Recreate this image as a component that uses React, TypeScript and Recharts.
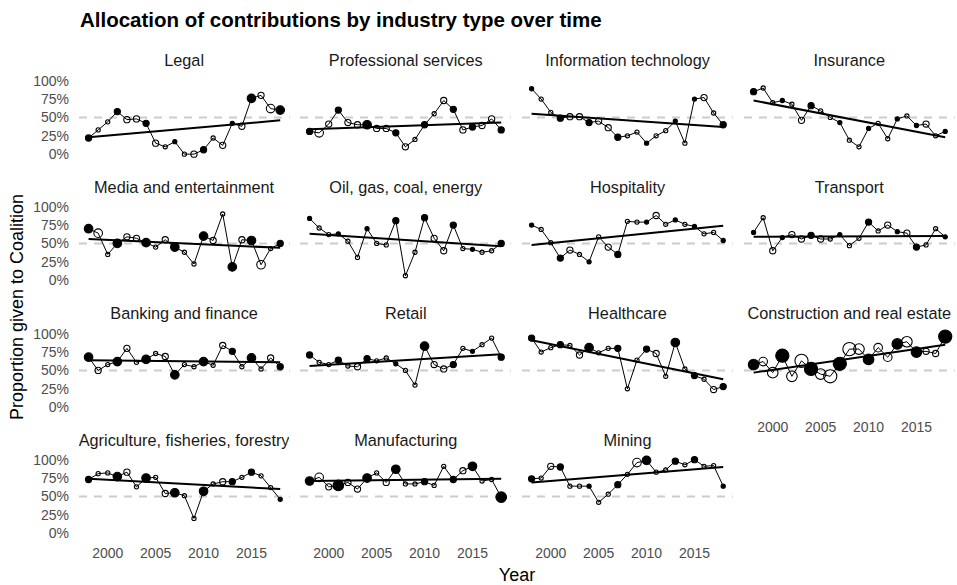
import { LineChart, Line, XAxis, YAxis, ReferenceLine } from "recharts";

// years 1998..2018, one observation per year
const years = [
  1998, 1999, 2000, 2001, 2002, 2003, 2004, 2005, 2006, 2007, 2008,
  2009, 2010, 2011, 2012, 2013, 2014, 2015, 2016, 2017, 2018,
];
// years drawn as filled dots
const filledYears = [1998, 2001, 2004, 2007, 2010, 2013, 2015, 2018];

const industries = [
  "Legal",
  "Professional services",
  "Information technology",
  "Insurance",
  "Media and entertainment",
  "Oil, gas, coal, energy",
  "Hospitality",
  "Transport",
  "Banking and finance",
  "Retail",
  "Healthcare",
  "Construction and real estate",
  "Agriculture, fisheries, forestry",
  "Manufacturing",
  "Mining",
];

// share given to Coalition, %
const legal = [22, 33, 44, 58, 47, 48, 42, 15, 10, 17, 0, 0, 6, 22, 12, 42, 38, 76, 80, 62, 60];
const profServices = [31, 29, 41, 60, 43, 40, 40, 35, 35, 29, 10, 20, 40, 55, 73, 61, 33, 37, 39, 48, 33];
const infoTech = [89, 75, 57, 49, 51, 51, 43, 45, 36, 23, 25, 30, 15, 25, 32, 45, 15, 75, 77, 56, 40];
const insurance = [85, 90, 70, 73, 68, 46, 66, 59, 50, 43, 19, 10, 35, 42, 21, 48, 52, 39, 41, 25, 31];
const media = [70, 64, 35, 50, 59, 57, 51, 45, 55, 45, 38, 22, 60, 54, 90, 18, 55, 54, 21, 43, 50];
const oilGas = [84, 71, 62, 63, 53, 31, 70, 50, 48, 81, 6, 38, 85, 57, 40, 75, 43, 42, 38, 40, 50];
const hospitality = [75, 69, 51, 30, 41, 35, 25, 59, 45, 35, 80, 79, 79, 88, 76, 82, 76, 73, 63, 65, 54];
const transport = [65, 85, 40, 58, 62, 56, 61, 56, 56, 62, 47, 57, 79, 67, 75, 66, 64, 45, 48, 70, 59];
const banking = [68, 50, 58, 62, 80, 61, 65, 73, 69, 44, 58, 55, 62, 57, 84, 76, 55, 67, 52, 67, 55];
const retail = [71, 61, 58, 64, 56, 55, 66, 63, 67, 59, 50, 30, 83, 58, 52, 58, 80, 76, 85, 94, 68];
const healthcare = [94, 75, 81, 85, 84, 71, 81, 74, 80, 80, 25, 64, 79, 73, 42, 88, 52, 43, 38, 24, 28];
const construction = [58, 62, 47, 70, 42, 63, 52, 45, 42, 59, 79, 79, 65, 81, 68, 86, 89, 75, 76, 73, 96];
const agriculture = [73, 81, 82, 77, 83, 63, 75, 76, 54, 55, 51, 20, 57, 67, 70, 70, 76, 83, 78, 62, 46];
const manufacturing = [71, 76, 63, 65, 69, 60, 75, 82, 69, 87, 67, 67, 70, 65, 91, 73, 85, 91, 71, 73, 49];
const mining = [74, 75, 91, 90, 64, 64, 64, 42, 53, 66, 80, 96, 99, 83, 86, 98, 93, 100, 91, 92, 64];

// dot size class (1 smallest .. 5 largest)
const legalSize = [2, 1, 1, 2, 2, 2, 2, 2, 1, 1, 1, 2, 2, 1, 2, 1, 2, 3, 2, 3, 3];
const profSize = [2, 3, 2, 2, 2, 2, 3, 2, 2, 2, 2, 1, 2, 1, 2, 2, 2, 2, 2, 2, 2];
const itSize = [1, 1, 1, 2, 2, 2, 2, 2, 2, 2, 1, 1, 1, 1, 1, 1, 1, 1, 2, 1, 2];
const insuranceSize = [2, 1, 1, 1, 1, 2, 2, 1, 1, 1, 1, 1, 1, 1, 1, 1, 1, 1, 2, 1, 1];
const mediaSize = [3, 3, 1, 3, 2, 2, 3, 1, 2, 3, 1, 1, 3, 2, 1, 3, 2, 3, 3, 1, 2];
const oilSize = [1, 1, 1, 1, 1, 1, 1, 1, 1, 2, 1, 1, 2, 2, 2, 2, 1, 1, 1, 1, 2];
const hospSize = [1, 1, 1, 2, 2, 1, 1, 1, 2, 2, 1, 1, 1, 2, 1, 1, 1, 1, 1, 1, 1];
const transportSize = [1, 1, 2, 1, 2, 2, 2, 2, 1, 1, 1, 1, 2, 1, 2, 1, 2, 2, 1, 1, 1];
const bankingSize = [3, 2, 1, 3, 2, 1, 3, 1, 2, 3, 1, 1, 3, 1, 2, 2, 1, 3, 1, 2, 2];
const retailSize = [2, 1, 1, 2, 1, 2, 2, 1, 1, 1, 1, 1, 3, 2, 2, 2, 1, 1, 1, 1, 2];
const healthSize = [2, 1, 1, 2, 1, 2, 3, 1, 1, 2, 1, 1, 2, 2, 1, 3, 1, 2, 1, 2, 2];
const constructionSize = [4, 3, 4, 5, 4, 5, 5, 4, 5, 5, 5, 4, 4, 3, 3, 4, 4, 4, 2, 2, 5];
const agriSize = [2, 1, 1, 3, 2, 1, 3, 1, 2, 3, 1, 1, 3, 1, 2, 2, 1, 2, 1, 1, 1];
const manuSize = [3, 3, 2, 4, 2, 2, 3, 1, 2, 3, 1, 1, 2, 1, 1, 2, 2, 3, 1, 1, 4];
const miningSize = [2, 1, 2, 2, 1, 1, 1, 1, 1, 2, 1, 3, 3, 1, 1, 2, 1, 2, 1, 1, 1];

// fitted trend, value at 1998 and at 2018
const trends = [
  [23, 46], [34, 43], [55, 37], [73, 23],
  [56, 44], [63, 46], [48, 74], [59, 60],
  [64, 61], [56, 72], [91, 38], [47, 85],
  [74, 60], [71, 74], [69, 90],
];

const shares = [
  legal, profServices, infoTech, insurance,
  media, oilGas, hospitality, transport,
  banking, retail, healthcare, construction,
  agriculture, manufacturing, mining,
];
const sizes = [
  legalSize, profSize, itSize, insuranceSize,
  mediaSize, oilSize, hospSize, transportSize,
  bankingSize, retailSize, healthSize, constructionSize,
  agriSize, manuSize, miningSize,
];

const radius = [0, 2.1, 3.1, 4.3, 5.3, 6.6];

const colLeft = [78.7, 300.4, 522.1, 743.8];
const rowMid = [117, 243.6, 370, 496.5];
const panelW = 210.8;
const panelH = 110 * 0.735;
const yAxisW = 60;
const xAxisH = 30;
const pad = 10; // room so edge labels and dots are not clipped
const font = "'Liberation Sans', Arial, sans-serif";

function renderDot(props: any) {
  const { cx, cy, payload, index } = props;
  if (cx == null || cy == null) return <g key={`d-${index}`} />;
  const filled = filledYears.includes(payload.year);
  return (
    <circle
      key={`d-${index}`}
      cx={cx}
      cy={cy}
      r={radius[payload.size]}
      fill={filled ? "#000" : "none"}
      stroke="#000"
      strokeWidth={1.1}
    />
  );
}

function Panel({ k }: { k: number }) {
  const col = k % 4;
  const row = Math.floor(k / 4);
  const showY = col === 0;
  const showX = k >= 11;
  const rows = years.map((year, i) => ({
    year,
    share: shares[k][i],
    size: sizes[k][i],
  }));
  const trendRows = [
    { year: years[0], share: trends[k][0] },
    { year: years[years.length - 1], share: trends[k][1] },
  ];
  const top = rowMid[row] - panelH / 2;
  return (
    <>
      <div
        style={{
          position: "absolute",
          left: colLeft[col],
          top: rowMid[row] - 65,
          width: panelW,
          height: 18,
          display: "flex",
          justifyContent: "center",
          overflow: "hidden",
          whiteSpace: "nowrap",
          fontSize: 16.3,
          lineHeight: "16.3px",
          color: "#1a1a1a",
        }}
      >
        {industries[k]}
      </div>
      <div
        style={{
          position: "absolute",
          left: colLeft[col] - (showY ? yAxisW : 0) - pad,
          top: top - pad,
        }}
      >
        <LineChart
          width={panelW + (showY ? yAxisW : 0) + 2 * pad}
          height={panelH + (showX ? xAxisH : 0) + 2 * pad}
          data={rows}
          margin={{ top: pad, right: pad, bottom: pad, left: pad }}
        >
          <XAxis
            type="number"
            dataKey="year"
            domain={[1997, 2019]}
            ticks={[2000, 2005, 2010, 2015]}
            interval={0}
            hide={!showX}
            height={xAxisH}
            axisLine={false}
            tickLine={false}
            tickMargin={5}
            tick={{ fill: "#4d4d4d", fontSize: 14 }}
          />
          <YAxis
            type="number"
            domain={[-5, 105]}
            ticks={[0, 25, 50, 75, 100]}
            interval={0}
            hide={!showY}
            width={yAxisW}
            axisLine={false}
            tickLine={false}
            tickSize={6}
            tickMargin={4}
            tickFormatter={(v) => `${v}%`}
            tick={{ fill: "#4d4d4d", fontSize: 14 }}
          />
          <ReferenceLine y={50} stroke="#cccccc" strokeWidth={2} strokeDasharray="8 7" />
          <Line
            dataKey="share"
            stroke="#000"
            strokeWidth={1}
            dot={renderDot}
            activeDot={false}
            isAnimationActive={false}
          />
          <Line
            data={trendRows}
            dataKey="share"
            stroke="#000"
            strokeWidth={2}
            dot={false}
            activeDot={false}
            isAnimationActive={false}
          />
        </LineChart>
      </div>
    </>
  );
}

export default function App() {
  return (
    <div
      style={{
        position: "absolute",
        left: 0,
        top: 0,
        width: 957,
        height: 585,
        background: "#fff",
        fontFamily: font,
        overflow: "hidden",
      }}
    >
      <div
        style={{
          position: "absolute",
          left: 80,
          top: 9.6,
          fontSize: 20.5,
          lineHeight: "20.5px",
          fontWeight: "bold",
          color: "#000",
          whiteSpace: "nowrap",
        }}
      >
        Allocation of contributions by industry type over time
      </div>
      <div
        style={{
          position: "absolute",
          left: 17 - 150,
          top: 307 - 10,
          width: 300,
          height: 20,
          lineHeight: "20px",
          textAlign: "center",
          fontSize: 18,
          transform: "rotate(-90deg)",
          color: "#000",
        }}
      >
        Proportion given to Coalition
      </div>
      <div
        style={{
          position: "absolute",
          left: 517 - 100,
          top: 565,
          width: 200,
          height: 20,
          lineHeight: "20px",
          textAlign: "center",
          fontSize: 18,
          color: "#000",
        }}
      >
        Year
      </div>
      {industries.map((_, k) => (
        <Panel key={k} k={k} />
      ))}
    </div>
  );
}
